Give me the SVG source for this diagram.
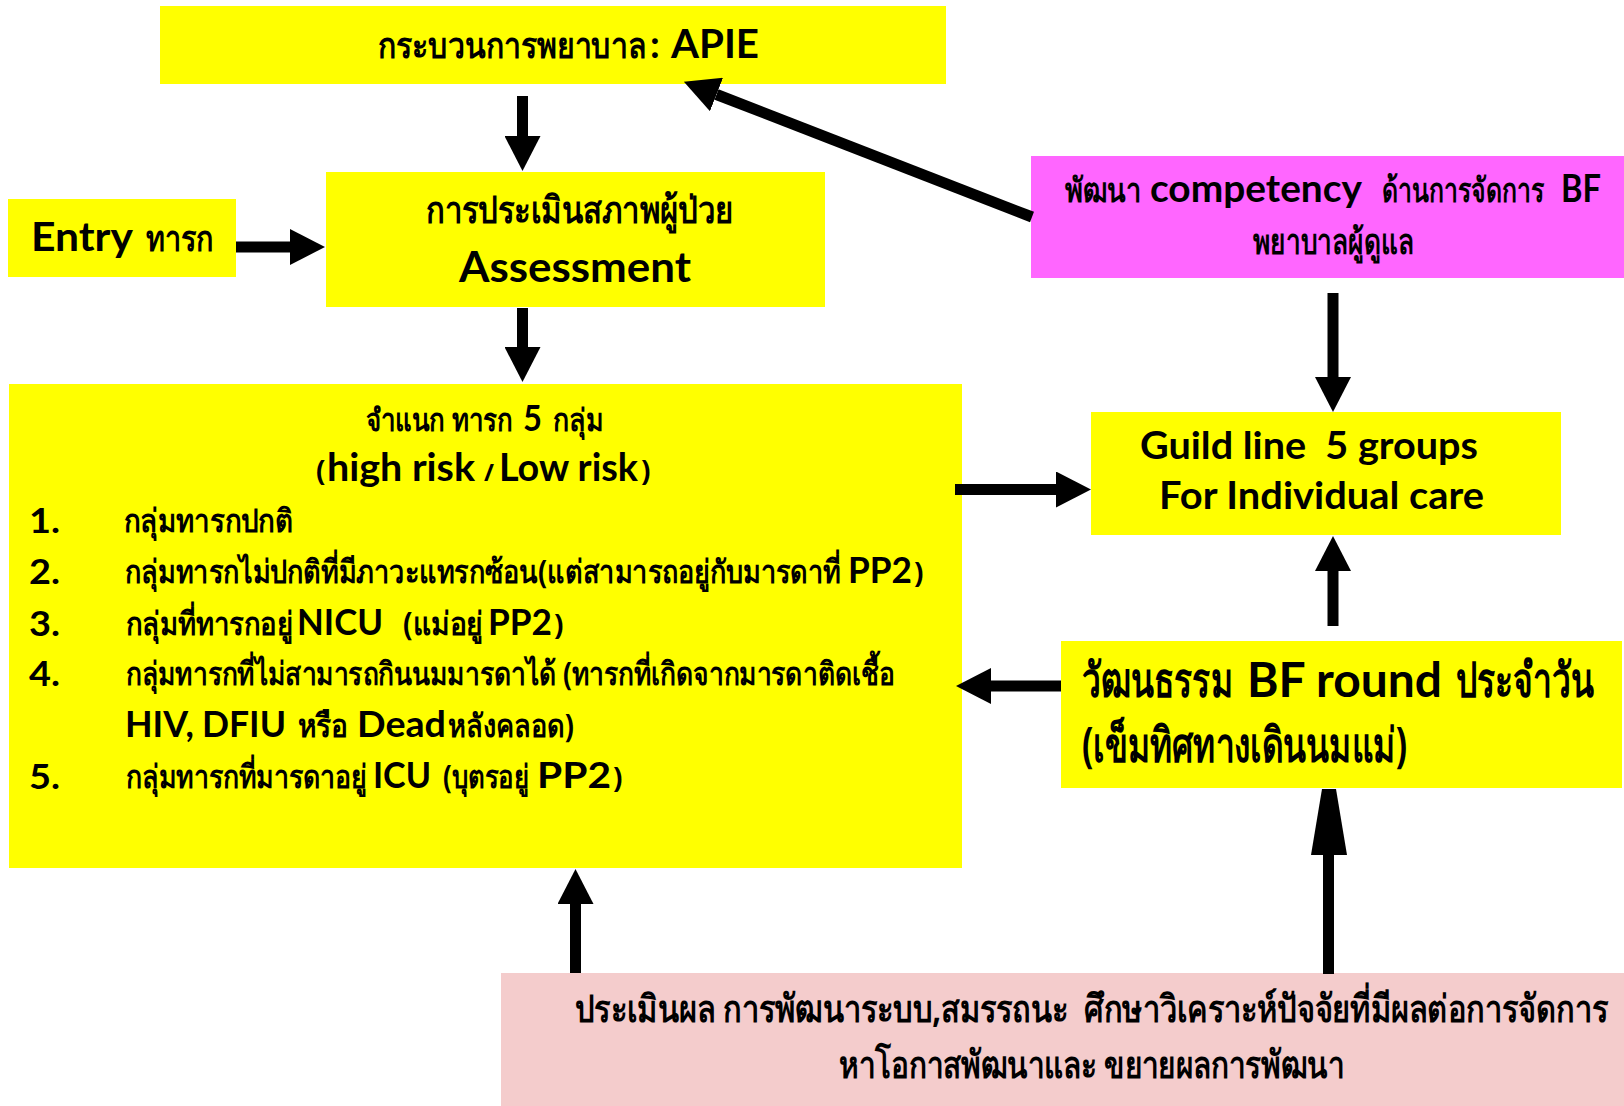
<svg xmlns="http://www.w3.org/2000/svg" width="1624" height="1106" viewBox="0 0 1624 1106">
<style>
.y{fill:#ffff00}
.m{fill:#ff66ff}
.p{fill:#f4cccc}
.lat{font-family:Lato,'Liberation Sans',sans-serif;font-weight:700;fill:#000}
.th{font-family:'Noto Sans','Liberation Sans',sans-serif;font-weight:700;fill:#000}
.c{stroke:#000;stroke-width:11;fill:none;marker-end:url(#ah)}
</style>
<defs>
<marker id="ah" markerUnits="userSpaceOnUse" markerWidth="36" markerHeight="36" viewBox="0 0 36 36" refX="0" refY="18" orient="auto"><path d="M0,0 L35,18 L0,36 z" fill="#000"/></marker>
</defs>
<rect width="1624" height="1106" fill="#fff"/>
<g id="apie">
<rect class="y" x="160" y="6" width="786" height="78"/>
<text class="th" x="378" y="58" font-size="36" textLength="268" lengthAdjust="spacingAndGlyphs">กระบวนการพยาบาล</text>
<text class="lat" x="650" y="58" font-size="38">:</text>
<text class="lat" x="671" y="58" font-size="40" textLength="88" lengthAdjust="spacingAndGlyphs">APIE</text>
</g>
<g id="entry">
<rect class="y" x="8" y="199" width="228" height="78"/>
<text class="lat" x="31" y="251" font-size="41" textLength="102" lengthAdjust="spacingAndGlyphs">Entry</text>
<text class="th" x="146" y="251" font-size="36" textLength="68" lengthAdjust="spacingAndGlyphs">ทารก</text>
</g>
<g id="assessment">
<rect class="y" x="326" y="172" width="499" height="135"/>
<text class="th" x="426" y="223" font-size="38" textLength="307" lengthAdjust="spacingAndGlyphs">การประเมินสภาพผู้ป่วย</text>
<text class="lat" x="459" y="282" font-size="42" textLength="232" lengthAdjust="spacingAndGlyphs">Assessment</text>
</g>
<g id="classify">
<rect class="y" x="9" y="384" width="953" height="484"/>
<text class="th" x="366" y="431" font-size="31" textLength="147" lengthAdjust="spacingAndGlyphs">จำแนก ทารก</text>
<text class="lat" x="523" y="431" font-size="36" textLength="19" lengthAdjust="spacingAndGlyphs">5</text>
<text class="th" x="553" y="431" font-size="31" textLength="50" lengthAdjust="spacingAndGlyphs">กลุ่ม</text>
<text class="th" x="316" y="481" font-size="28">(</text>
<text class="lat" x="327" y="481" font-size="39" textLength="148" lengthAdjust="spacingAndGlyphs">high risk</text>
<text class="th" x="484" y="481" font-size="24">/</text>
<text class="lat" x="499" y="481" font-size="39" textLength="139" lengthAdjust="spacingAndGlyphs">Low risk</text>
<text class="th" x="641" y="481" font-size="28">)</text>

<text class="lat" x="29" y="533" font-size="35" textLength="31" lengthAdjust="spacingAndGlyphs">1.</text>
<text class="th" x="124" y="532" font-size="32" textLength="169" lengthAdjust="spacingAndGlyphs">กลุ่มทารกปกติ</text>

<text class="lat" x="29" y="584" font-size="35" textLength="31" lengthAdjust="spacingAndGlyphs">2.</text>
<text class="th" x="125" y="583" font-size="32" textLength="716" lengthAdjust="spacingAndGlyphs">กลุ่มทารกไม่ปกติที่มีภาวะแทรกซ้อน(แต่สามารถอยู่กับมารดาที่</text>
<text class="lat" x="848" y="583" font-size="37" textLength="64" lengthAdjust="spacingAndGlyphs">PP2</text>
<text class="th" x="914" y="583" font-size="28">)</text>

<text class="lat" x="29" y="636" font-size="35" textLength="31" lengthAdjust="spacingAndGlyphs">3.</text>
<text class="th" x="126" y="635" font-size="32" textLength="167" lengthAdjust="spacingAndGlyphs">กลุ่มที่ทารกอยู่</text>
<text class="lat" x="297" y="635" font-size="37" textLength="86" lengthAdjust="spacingAndGlyphs">NICU</text>
<text class="th" x="403" y="635" font-size="32" textLength="80" lengthAdjust="spacingAndGlyphs">(แม่อยู่</text>
<text class="lat" x="488" y="635" font-size="37" textLength="64" lengthAdjust="spacingAndGlyphs">PP2</text>
<text class="th" x="554" y="635" font-size="28">)</text>

<text class="lat" x="29" y="686" font-size="35" textLength="31" lengthAdjust="spacingAndGlyphs">4.</text>
<text class="th" x="126" y="685" font-size="32" textLength="769" lengthAdjust="spacingAndGlyphs">กลุ่มทารกที่ไม่สามารถกินนมมารดาได้ (ทารกที่เกิดจากมารดาติดเชื้อ</text>

<text class="lat" x="125" y="737" font-size="37" textLength="69" lengthAdjust="spacingAndGlyphs">HIV,</text>
<text class="lat" x="202" y="737" font-size="37" textLength="84" lengthAdjust="spacingAndGlyphs">DFIU</text>
<text class="th" x="298" y="737" font-size="32" textLength="50" lengthAdjust="spacingAndGlyphs">หรือ</text>
<text class="lat" x="357" y="737" font-size="37" textLength="89" lengthAdjust="spacingAndGlyphs">Dead</text>
<text class="th" x="448" y="737" font-size="32" textLength="126" lengthAdjust="spacingAndGlyphs">หลังคลอด)</text>

<text class="lat" x="29" y="789" font-size="35" textLength="31" lengthAdjust="spacingAndGlyphs">5.</text>
<text class="th" x="126" y="788" font-size="32" textLength="241" lengthAdjust="spacingAndGlyphs">กลุ่มทารกที่มารดาอยู่</text>
<text class="lat" x="373" y="788" font-size="37" textLength="58" lengthAdjust="spacingAndGlyphs">ICU</text>
<text class="th" x="443" y="788" font-size="32" textLength="86" lengthAdjust="spacingAndGlyphs">(บุตรอยู่</text>
<text class="lat" x="537" y="788" font-size="37" textLength="74" lengthAdjust="spacingAndGlyphs">PP2</text>
<text class="th" x="613" y="788" font-size="28">)</text>
</g>
<g id="competency">
<rect class="m" x="1031" y="156" width="593" height="122"/>
<text class="th" x="1065" y="202" font-size="34" textLength="76" lengthAdjust="spacingAndGlyphs">พัฒนา</text>
<text class="lat" x="1150" y="202" font-size="38" textLength="212" lengthAdjust="spacingAndGlyphs">competency</text>
<text class="th" x="1382" y="202" font-size="34" textLength="162" lengthAdjust="spacingAndGlyphs">ด้านการจัดการ</text>
<text class="lat" x="1561" y="202" font-size="38" textLength="40" lengthAdjust="spacingAndGlyphs">BF</text>
<text class="th" x="1253" y="254" font-size="35" textLength="161" lengthAdjust="spacingAndGlyphs">พยาบาลผู้ดูแล</text>
</g>
<g id="guideline">
<rect class="y" x="1091" y="412" width="470" height="123"/>
<text class="lat" x="1140" y="459" font-size="38" textLength="338" lengthAdjust="spacingAndGlyphs" xml:space="preserve">Guild line  5 groups</text>
<text class="lat" x="1159" y="509" font-size="38" textLength="325" lengthAdjust="spacingAndGlyphs">For Individual care</text>
</g>
<g id="bfround">
<rect class="y" x="1061" y="641" width="561" height="147"/>
<text class="th" x="1082" y="697" font-size="48" textLength="151" lengthAdjust="spacingAndGlyphs">วัฒนธรรม</text>
<text class="lat" x="1247" y="697" font-size="48" textLength="195" lengthAdjust="spacingAndGlyphs">BF round</text>
<text class="th" x="1456" y="697" font-size="48" textLength="138" lengthAdjust="spacingAndGlyphs">ประจำวัน</text>
<text class="th" x="1082" y="762" font-size="48" textLength="325" lengthAdjust="spacingAndGlyphs">(เข็มทิศทางเดินนมแม่)</text>
</g>
<g id="evaluate">
<rect class="p" x="501" y="973" width="1123" height="133"/>
<text class="th" x="575" y="1022" font-size="38" textLength="1033" lengthAdjust="spacingAndGlyphs" xml:space="preserve">ประเมินผล การพัฒนาระบบ,สมรรถนะ  ศึกษาวิเคราะห์ปัจจัยที่มีผลต่อการจัดการ</text>
<text class="th" x="839" y="1078" font-size="38" textLength="505" lengthAdjust="spacingAndGlyphs">หาโอกาสพัฒนาและ ขยายผลการพัฒนา</text>
</g>
<g id="connectors">
<line class="c" x1="522.5" y1="96" x2="522.5" y2="136"/>
<line class="c" x1="522.5" y1="308" x2="522.5" y2="347"/>
<line class="c" x1="236" y1="247" x2="290" y2="247"/>
<line class="c" x1="955" y1="489.5" x2="1056" y2="489.5"/>
<line class="c" x1="1061" y1="686" x2="991" y2="686"/>
<line class="c" x1="1032" y1="217" x2="716.5" y2="94.5"/>
<line class="c" x1="1333" y1="293" x2="1333" y2="377"/>
<line class="c" x1="1333" y1="626" x2="1333" y2="571"/>
<line class="c" x1="575.5" y1="973" x2="575.5" y2="904"/>
<line x1="1328.5" y1="974" x2="1328.5" y2="854" stroke="#000" stroke-width="11"/>
<polygon points="1311,855 1347,855 1336,789 1322,789" fill="#000"/>
</g>
</svg>
